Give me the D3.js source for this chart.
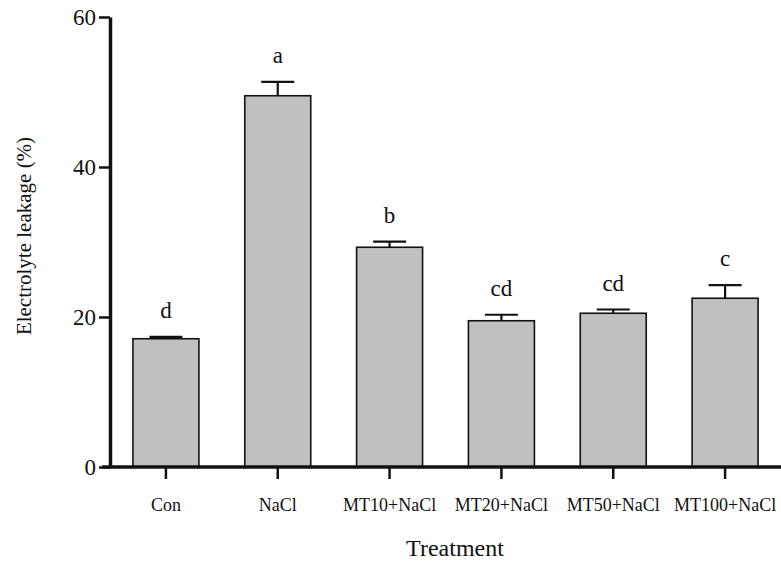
<!DOCTYPE html>
<html>
<head>
<meta charset="utf-8">
<script src="https://cdn.jsdelivr.net/npm/d3@7"></script>
<style>
  body { margin: 0; background: #fff; }
  svg text { font-family: "Liberation Serif", "Times New Roman", serif; fill: #111; }
</style>
</head>
<body>
<div id="chart"></div>
<script>
// chart data
var treatments = ["Con", "NaCl", "MT10+NaCl", "MT20+NaCl", "MT50+NaCl", "MT100+NaCl"];
var leakage = [17.1, 49.5, 29.3, 19.5, 20.5, 22.5];
var errors = [0.25, 1.85, 0.75, 0.8, 0.5, 1.75];
var sigLetters = ["d", "a", "b", "cd", "cd", "c"];
var yTicks = [0, 20, 40, 60];

var width = 781,
    height = 563;

var svg = d3.select("#chart").append("svg")
    .attr("width", width)
    .attr("height", height);

var x = d3.scaleBand()
    .domain(treatments)
    .range([110, 781])
    .paddingInner(0.41)
    .paddingOuter(0.205);

var y = d3.scaleLinear()
    .domain([0, 60])
    .range([467, 17]);

var rows = treatments.map(function(t, i) {
  return { name: t, value: leakage[i], err: errors[i], letter: sigLetters[i] };
});

// bars
svg.append("g")
  .selectAll("rect")
  .data(rows)
  .enter().append("rect")
    .attr("x", function(d) { return x(d.name); })
    .attr("y", function(d) { return y(d.value); })
    .attr("width", x.bandwidth())
    .attr("height", function(d) { return y(0) - y(d.value); })
    .attr("fill", "#c0c0c0")
    .attr("stroke", "#111")
    .attr("stroke-width", 1.6);

// error bars (upper half only)
var eb = svg.append("g").selectAll("g")
  .data(rows)
  .enter().append("g")
    .attr("stroke", "#111")
    .attr("stroke-width", 2.2);

eb.append("line")
    .attr("x1", function(d) { return x(d.name) + x.bandwidth() / 2; })
    .attr("x2", function(d) { return x(d.name) + x.bandwidth() / 2; })
    .attr("y1", function(d) { return y(d.value); })
    .attr("y2", function(d) { return y(d.value + d.err); });

eb.append("line")
    .attr("x1", function(d) { return x(d.name) + x.bandwidth() / 4; })
    .attr("x2", function(d) { return x(d.name) + x.bandwidth() * 3 / 4; })
    .attr("y1", function(d) { return y(d.value + d.err); })
    .attr("y2", function(d) { return y(d.value + d.err); });

// significance letters
svg.append("g")
  .selectAll("text")
  .data(rows)
  .enter().append("text")
    .attr("x", function(d) { return x(d.name) + x.bandwidth() / 2; })
    .attr("y", function(d) { return y(d.value + d.err) - 19; })
    .attr("text-anchor", "middle")
    .style("font-size", "23px")
    .text(function(d) { return d.letter; });

// y axis
var yAxis = svg.append("g")
    .attr("transform", "translate(110,0)")
    .call(d3.axisLeft(y).tickValues(yTicks).tickSize(11).tickSizeOuter(0).tickPadding(3));
yAxis.select(".domain").attr("stroke", "#111").attr("stroke-width", 3.5);
yAxis.selectAll(".tick line").attr("stroke", "#111").attr("stroke-width", 2.5);
yAxis.selectAll(".tick text")
    .style("font-size", "23px")
    .attr("fill", "#111");

// x axis
var xAxis = svg.append("g")
    .attr("transform", "translate(0,467)")
    .call(d3.axisBottom(x).tickSize(12).tickSizeOuter(0).tickPadding(19));
xAxis.select(".domain")
    .attr("d", "M102,0H781")
    .attr("stroke", "#111")
    .attr("stroke-width", 3.5);
xAxis.selectAll(".tick line").attr("stroke", "#111").attr("stroke-width", 2.5);
xAxis.selectAll(".tick text")
    .style("font-size", "18px")
    .attr("fill", "#111");

// axis titles
svg.append("text")
    .attr("transform", "translate(31,236) rotate(-90)")
    .attr("text-anchor", "middle")
    .style("font-size", "21px")
    .text("Electrolyte leakage (%)");

svg.append("text")
    .attr("x", 455)
    .attr("y", 556)
    .attr("text-anchor", "middle")
    .style("font-size", "24px")
    .text("Treatment");
</script>
</body>
</html>
